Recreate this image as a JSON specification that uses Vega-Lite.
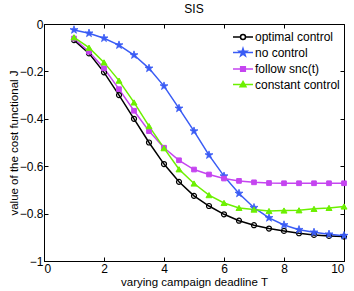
{
  "$schema": "https://vega.github.io/schema/vega-lite/v6.json",
  "width": 300,
  "height": 237,
  "autosize": "none",
  "padding": {"left": 44, "top": 24, "right": 10, "bottom": 30},
  "background": "white",
  "config": {
    "font": "Liberation Sans",
    "view": {"stroke": "black", "strokeWidth": 1},
    "axis": {
      "labelFont": "Liberation Sans",
      "titleFont": "Liberation Sans",
      "labelFontSize": 12,
      "titleFontSize": 11.5,
      "labelColor": "black",
      "titleColor": "black",
      "titleFontWeight": "normal",
      "domainColor": "black",
      "tickColor": "black",
      "grid": false,
      "tickSize": -4,
      "labelPadding": 5
    }
  },
  "title": {"text": "SIS", "fontSize": 12, "fontWeight": "normal", "font": "Liberation Sans", "offset": 2, "color": "black"},
  "data": {
    "values": [
      {"T": 1, "J": -0.068, "method": "optimal control"},
      {"T": 1.5, "J": -0.124, "method": "optimal control"},
      {"T": 2, "J": -0.204, "method": "optimal control"},
      {"T": 2.5, "J": -0.3, "method": "optimal control"},
      {"T": 3, "J": -0.4, "method": "optimal control"},
      {"T": 3.5, "J": -0.5, "method": "optimal control"},
      {"T": 4, "J": -0.591, "method": "optimal control"},
      {"T": 4.5, "J": -0.666, "method": "optimal control"},
      {"T": 5, "J": -0.725, "method": "optimal control"},
      {"T": 5.5, "J": -0.768, "method": "optimal control"},
      {"T": 6, "J": -0.803, "method": "optimal control"},
      {"T": 6.5, "J": -0.83, "method": "optimal control"},
      {"T": 7, "J": -0.849, "method": "optimal control"},
      {"T": 7.5, "J": -0.863, "method": "optimal control"},
      {"T": 8, "J": -0.873, "method": "optimal control"},
      {"T": 8.5, "J": -0.883, "method": "optimal control"},
      {"T": 9, "J": -0.89, "method": "optimal control"},
      {"T": 9.5, "J": -0.894, "method": "optimal control"},
      {"T": 10, "J": -0.897, "method": "optimal control"},
      {"T": 1, "J": -0.025, "method": "no control"},
      {"T": 1.5, "J": -0.039, "method": "no control"},
      {"T": 2, "J": -0.06, "method": "no control"},
      {"T": 2.5, "J": -0.089, "method": "no control"},
      {"T": 3, "J": -0.131, "method": "no control"},
      {"T": 3.5, "J": -0.187, "method": "no control"},
      {"T": 4, "J": -0.262, "method": "no control"},
      {"T": 4.5, "J": -0.356, "method": "no control"},
      {"T": 5, "J": -0.452, "method": "no control"},
      {"T": 5.5, "J": -0.553, "method": "no control"},
      {"T": 6, "J": -0.642, "method": "no control"},
      {"T": 6.5, "J": -0.715, "method": "no control"},
      {"T": 7, "J": -0.775, "method": "no control"},
      {"T": 7.5, "J": -0.818, "method": "no control"},
      {"T": 8, "J": -0.848, "method": "no control"},
      {"T": 8.5, "J": -0.868, "method": "no control"},
      {"T": 9, "J": -0.879, "method": "no control"},
      {"T": 9.5, "J": -0.887, "method": "no control"},
      {"T": 10, "J": -0.893, "method": "no control"},
      {"T": 1, "J": -0.061, "method": "follow snc(t)"},
      {"T": 1.5, "J": -0.117, "method": "follow snc(t)"},
      {"T": 2, "J": -0.187, "method": "follow snc(t)"},
      {"T": 2.5, "J": -0.275, "method": "follow snc(t)"},
      {"T": 3, "J": -0.366, "method": "follow snc(t)"},
      {"T": 3.5, "J": -0.452, "method": "follow snc(t)"},
      {"T": 4, "J": -0.522, "method": "follow snc(t)"},
      {"T": 4.5, "J": -0.575, "method": "follow snc(t)"},
      {"T": 5, "J": -0.614, "method": "follow snc(t)"},
      {"T": 5.5, "J": -0.635, "method": "follow snc(t)"},
      {"T": 6, "J": -0.652, "method": "follow snc(t)"},
      {"T": 6.5, "J": -0.662, "method": "follow snc(t)"},
      {"T": 7, "J": -0.668, "method": "follow snc(t)"},
      {"T": 7.5, "J": -0.671, "method": "follow snc(t)"},
      {"T": 8, "J": -0.672, "method": "follow snc(t)"},
      {"T": 8.5, "J": -0.672, "method": "follow snc(t)"},
      {"T": 9, "J": -0.672, "method": "follow snc(t)"},
      {"T": 9.5, "J": -0.672, "method": "follow snc(t)"},
      {"T": 10, "J": -0.672, "method": "follow snc(t)"},
      {"T": 1, "J": -0.056, "method": "constant control"},
      {"T": 1.5, "J": -0.1, "method": "constant control"},
      {"T": 2, "J": -0.162, "method": "constant control"},
      {"T": 2.5, "J": -0.239, "method": "constant control"},
      {"T": 3, "J": -0.331, "method": "constant control"},
      {"T": 3.5, "J": -0.431, "method": "constant control"},
      {"T": 4, "J": -0.524, "method": "constant control"},
      {"T": 4.5, "J": -0.613, "method": "constant control"},
      {"T": 5, "J": -0.673, "method": "constant control"},
      {"T": 5.5, "J": -0.722, "method": "constant control"},
      {"T": 6, "J": -0.755, "method": "constant control"},
      {"T": 6.5, "J": -0.776, "method": "constant control"},
      {"T": 7, "J": -0.783, "method": "constant control"},
      {"T": 7.5, "J": -0.789, "method": "constant control"},
      {"T": 8, "J": -0.787, "method": "constant control"},
      {"T": 8.5, "J": -0.786, "method": "constant control"},
      {"T": 9, "J": -0.78, "method": "constant control"},
      {"T": 9.5, "J": -0.776, "method": "constant control"},
      {"T": 10, "J": -0.77, "method": "constant control"}
    ]
  },
  "layer": [
    {
      "mark": {"type": "line", "strokeWidth": 1.5},
      "encoding": {
        "x": {"field": "T", "type": "quantitative", "scale": {"domain": [0, 10], "nice": false},
              "axis": {"orient": "bottom", "values": [0, 2, 4, 6, 8, 10], "title": "varying campaign deadline T", "labelPadding": 6, "titleY": 24, "titleBaseline": "alphabetic"}},
        "y": {"field": "J", "type": "quantitative", "scale": {"domain": [-1, 0], "nice": false},
              "axis": {"orient": "left", "values": [-1, -0.8, -0.6, -0.4, -0.2, 0], "labelPadding": 5, "labelExpr": "datum.value === 0 ? '0' : '\u2212' + format(-datum.value, '.1~f')", "title": "value of the cost functional J", "titlePadding": 0}},
        "color": {
          "field": "method", "type": "nominal",
          "scale": {"domain": ["optimal control", "no control", "follow snc(t)", "constant control"],
                    "range": ["#000000", "#3a5cf5", "#c545f0", "#6cf000"]},
          "legend": {
            "title": null,
            "orient": "none",
            "legendX": 190,
            "legendY": 4,
            "padding": 0,
            "symbolSize": 256,
            "symbolStrokeWidth": 1.5,
            "labelFontSize": 12,
            "labelFont": "Liberation Sans",
            "labelColor": "black",
            "labelOffset": 3,
            "rowPadding": 0.5,
            "strokeColor": null,
            "encode": {
              "symbols": {
                "update": {
                  "shape": {"signal": "datum.value === 'optimal control' ? 'M-1.25,0H-0.31M0.31,0A0.31,0.31 0 1,1 -0.31,0A0.31,0.31 0 1,1 0.31,0M0.31,0H1.25' : datum.value === 'no control' ? 'M-1.25,0H1.25M0,-0.5L0.112,-0.155L0.476,-0.155L0.182,0.059L0.294,0.405L0,0.191L-0.294,0.405L-0.182,0.059L-0.476,-0.155L-0.112,-0.155Z' : datum.value === 'follow snc(t)' ? 'M-1.25,0H1.25M-0.29,-0.29H0.29V0.29H-0.29Z' : 'M-1.25,0H1.25M0,-0.38L0.37,0.27L-0.37,0.27Z'"},
                  "fill": {"signal": "datum.value === 'optimal control' ? 'transparent' : datum.value === 'no control' ? '#3a5cf5' : datum.value === 'follow snc(t)' ? '#c545f0' : '#6cf000'"}
                }
              }
            }
          }
        }
      }
    },
    {
      "transform": [{"filter": "datum.method === 'optimal control'"}],
      "mark": {"type": "point", "shape": "circle", "size": 25, "filled": false, "stroke": "#000000", "fill": "transparent", "strokeWidth": 1.2, "opacity": 1},
      "encoding": {
        "x": {"field": "T", "type": "quantitative",
              "axis": {"orient": "top", "values": [0, 2, 4, 6, 8, 10], "labels": false, "title": null, "domain": false}},
        "y": {"field": "J", "type": "quantitative",
              "axis": {"orient": "right", "values": [-1, -0.8, -0.6, -0.4, -0.2, 0], "labels": false, "title": null, "domain": false}}
      }
    },
    {
      "transform": [{"filter": "datum.method === 'no control'"}],
      "mark": {"type": "point", "shape": "M0,-1L0.225,-0.309L0.951,-0.309L0.363,0.118L0.588,0.809L0,0.382L-0.588,0.809L-0.363,0.118L-0.951,-0.309L-0.225,-0.309Z", "size": 70, "filled": true, "fill": "#3a5cf5", "stroke": "#3a5cf5", "strokeWidth": 0.8, "opacity": 1},
      "encoding": {
        "x": {"field": "T", "type": "quantitative", "axis": null},
        "y": {"field": "J", "type": "quantitative", "axis": null}
      }
    },
    {
      "transform": [{"filter": "datum.method === 'follow snc(t)'"}],
      "mark": {"type": "point", "shape": "square", "size": 22, "filled": true, "fill": "#c545f0", "stroke": "#c545f0", "strokeWidth": 1, "opacity": 1},
      "encoding": {
        "x": {"field": "T", "type": "quantitative", "axis": null},
        "y": {"field": "J", "type": "quantitative", "axis": null}
      }
    },
    {
      "transform": [{"filter": "datum.method === 'constant control'"}],
      "mark": {"type": "point", "shape": "triangle-up", "size": 36, "filled": true, "fill": "#6cf000", "stroke": "#6cf000", "strokeWidth": 1, "opacity": 1},
      "encoding": {
        "x": {"field": "T", "type": "quantitative", "axis": null},
        "y": {"field": "J", "type": "quantitative", "axis": null}
      }
    }
  ],
  "resolve": {"axis": {"x": "independent", "y": "independent"}}
}
